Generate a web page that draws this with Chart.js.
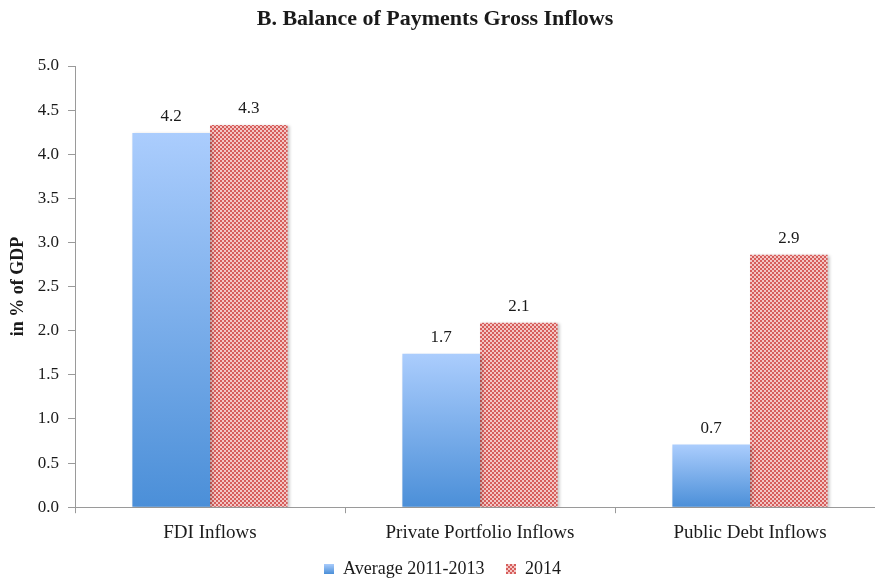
<!DOCTYPE html>
<html>
<head>
<meta charset="utf-8">
<script src="https://cdn.jsdelivr.net/npm/chart.js@4.4.1/dist/chart.umd.min.js"></script>
<style>
  html, body { margin: 0; padding: 0; background: #fff; overflow: hidden; }
  #wrap { width: 875px; height: 580px; position: relative; overflow: hidden; }
</style>
</head>
<body>
<div id="wrap"><canvas id="c" width="885" height="588"></canvas></div>
<script>
const chartTitle = "B. Balance of Payments Gross Inflows";
const categories = ["FDI Inflows", "Private Portfolio Inflows", "Public Debt Inflows"];
const seriesNames = ["Average 2011-2013", "2014"];
const avg2011_2013 = [4.24, 1.74, 0.71];
const y2014 = [4.33, 2.09, 2.86];
const yTicks = [0.0, 0.5, 1.0, 1.5, 2.0, 2.5, 3.0, 3.5, 4.0, 4.5, 5.0];

const FONT = "'Liberation Serif', 'DejaVu Serif', serif";
const TEXT = "#1a1a1a";

// crosshatch pattern for 2014
const pc = document.createElement('canvas');
pc.width = 4; pc.height = 4;
const pctx = pc.getContext('2d');
pctx.fillStyle = '#f3c6c4';
pctx.fillRect(0, 0, 4, 4);
pctx.fillStyle = '#d65d5b';
pctx.fillRect(0, 0, 2, 2);
pctx.fillRect(2, 2, 2, 2);
const redPattern = pctx.createPattern(pc, 'repeat');

function legendSwatch(kind) {
  const s = document.createElement('canvas');
  s.width = 10; s.height = 10;
  const x = s.getContext('2d');
  if (kind === 'blue') {
    const g = x.createLinearGradient(0, 0, 0, 10);
    g.addColorStop(0, '#a9ccfc'); g.addColorStop(1, '#4a8fd8');
    x.fillStyle = g; x.fillRect(0, 0, 10, 10);
  } else {
    x.fillStyle = '#f3c6c4'; x.fillRect(0, 0, 10, 10);
    x.fillStyle = '#d65d5b';
    for (let i = 0; i < 10; i += 2) for (let j = 0; j < 10; j += 2)
      if (((i + j) / 2) % 2 === 0) x.fillRect(i, j, 2, 2);
  }
  return s;
}
const swatches = [legendSwatch('blue'), legendSwatch('red')];

function blueGradient(context) {
  const chart = context.chart;
  const { ctx, chartArea, scales } = chart;
  if (!chartArea || context.type !== 'data') return '#78aeee';
  const top = scales.y.getPixelForValue(context.raw);
  const bottom = scales.y.getPixelForValue(0);
  const g = ctx.createLinearGradient(0, top, 0, bottom);
  g.addColorStop(0, '#abcdfd');
  g.addColorStop(1, '#4b8fd8');
  return g;
}

const titlePlugin = {
  id: 'titleText',
  afterDraw(chart) {
    const ctx = chart.ctx;
    ctx.save();
    ctx.font = "bold 22px " + FONT;
    ctx.fillStyle = TEXT;
    ctx.textAlign = 'center';
    ctx.textBaseline = 'alphabetic';
    ctx.fillText(chartTitle, 435, 25);
    ctx.restore();
  }
};

const valueLabels = {
  id: 'valueLabels',
  afterDatasetsDraw(chart) {
    const ctx = chart.ctx;
    ctx.save();
    ctx.font = "17px " + FONT;
    ctx.fillStyle = TEXT;
    ctx.textAlign = 'center';
    ctx.textBaseline = 'alphabetic';
    chart.data.datasets.forEach((ds, di) => {
      const meta = chart.getDatasetMeta(di);
      meta.data.forEach((bar, i) => {
        ctx.fillText(ds.data[i].toFixed(1), bar.x, bar.y - 12);
      });
    });
    ctx.restore();
  }
};

const barShadow = {
  id: 'barShadow',
  beforeDatasetsDraw(chart) {
    const ctx = chart.ctx;
    ctx.save();
    ctx.shadowColor = 'rgba(0,0,0,0.22)';
    ctx.shadowBlur = 3;
    ctx.shadowOffsetX = 2;
    ctx.shadowOffsetY = 1;
  },
  afterDatasetsDraw(chart) {
    chart.ctx.restore();
  }
};

new Chart(document.getElementById('c'), {
  type: 'bar',
  data: {
    labels: categories,
    datasets: [
      { label: seriesNames[0], data: avg2011_2013, backgroundColor: blueGradient, borderWidth: 0 },
      { label: seriesNames[1], data: y2014, backgroundColor: redPattern, borderWidth: 0 }
    ]
  },
  options: {
    responsive: false,
    animation: false,
    devicePixelRatio: 1,
    layout: { padding: { top: 66, right: 0, bottom: 0, left: 0 } },
    datasets: { bar: { categoryPercentage: 0.575, barPercentage: 1.0 } },
    plugins: {
      title: { display: false },
      legend: {
        position: 'bottom',
        labels: {
          font: { family: FONT, size: 18 },
          color: TEXT,
          usePointStyle: true,
          boxWidth: 10,
          boxHeight: 10,
          padding: 8,
          generateLabels(chart) {
            return chart.data.datasets.map((ds, i) => ({
              text: i === 0 ? ds.label + '   ' : ds.label,
              pointStyle: swatches[i],
              fillStyle: 'transparent',
              strokeStyle: 'transparent',
              lineWidth: 0,
              hidden: false,
              datasetIndex: i,
              fontColor: TEXT
            }));
          }
        }
      },
      tooltip: { enabled: false }
    },
    scales: {
      x: {
        offset: true,
        grid: { display: true, offset: true, drawOnChartArea: false, drawTicks: true, tickLength: 6, color: '#9a9a9a' },
        border: { display: true, color: '#9a9a9a', width: 1 },
        ticks: { font: { family: FONT, size: 19 }, color: TEXT, padding: 8, maxRotation: 0 }
      },
      y: {
        min: 0, max: 5,
        afterBuildTicks(scale) { scale.ticks = yTicks.map(v => ({ value: v })); },
        afterFit(scale) { scale.width = 75; },
        grid: { display: true, drawOnChartArea: false, drawTicks: true, tickLength: 7, color: '#9a9a9a' },
        border: { display: true, color: '#9a9a9a', width: 1 },
        ticks: {
          font: { family: FONT, size: 17 }, color: TEXT, padding: 9,
          callback: (v) => Number(v).toFixed(1)
        },
        title: {
          display: true, text: "in % of GDP",
          font: { family: FONT, size: 18, weight: 'bold' }, color: TEXT, padding: { top: 8, bottom: 0 }
        }
      }
    }
  },
  plugins: [barShadow, valueLabels, titlePlugin]
});
</script>
</body>
</html>
